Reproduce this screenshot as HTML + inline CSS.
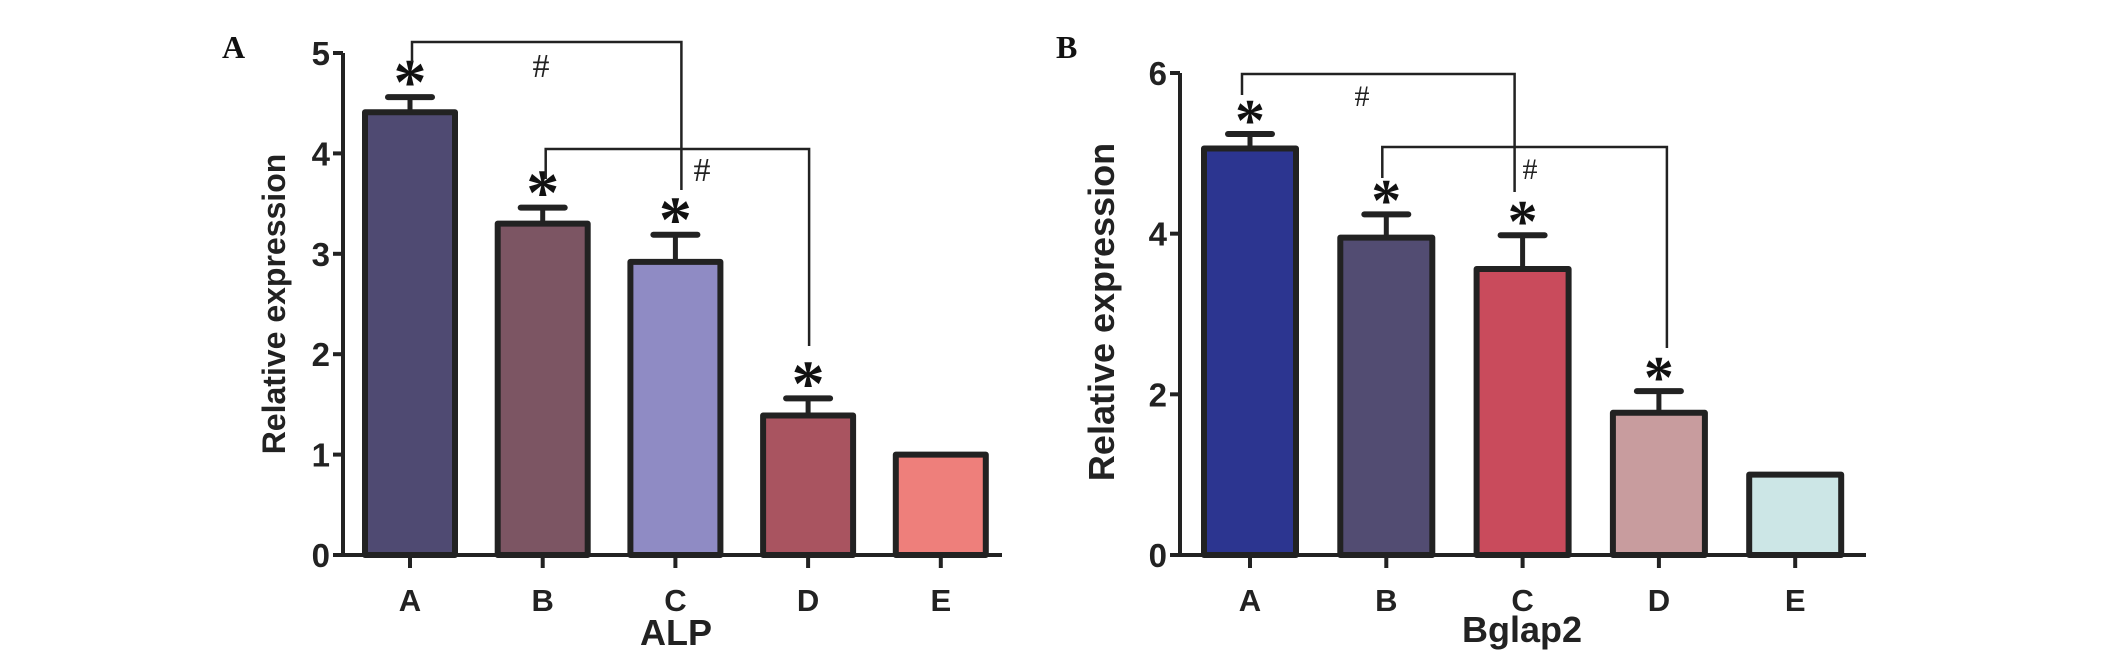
<!DOCTYPE html>
<html><head><meta charset="utf-8"><style>
html,body{margin:0;padding:0;background:#fff;}
svg{display:block;}
</style></head><body>
<svg id="chart" width="2126" height="652" viewBox="0 0 2126 652" xmlns="http://www.w3.org/2000/svg"></svg>
<script>
const categories = ["A","B","C","D","E"];
const alpValues = [4.41, 3.30, 2.92, 1.39, 1.00];
const alpErrors = [0.15, 0.16, 0.27, 0.17, 0];
const alpTicks = [0,1,2,3,4,5];
const bglapValues = [5.06, 3.95, 3.56, 1.77, 1.00];
const bglapErrors = [0.18, 0.29, 0.42, 0.27, 0];
const bglapTicks = [0,2,4,6];
const alpStars = [true,true,true,true,false];
const bglapStars = [true,true,true,true,false];

const NS="http://www.w3.org/2000/svg";
const svg=document.getElementById('chart');
function mk(tag,attrs,parent,text){const e=document.createElementNS(NS,tag);for(const k in attrs)e.setAttribute(k,attrs[k]);if(text!==undefined)e.textContent=text;(parent||svg).appendChild(e);return e;}

function panel(cfg){
  const g=mk('g',{});
  
  
  const y=v=>cfg.y0-(v-0)*(cfg.y0-cfg.yTop)/cfg.yMax;
  const x=i=>cfg.x0c+i*cfg.step;
  const pl=mk('text',{x:cfg.letterX,y:cfg.letterY,'font-family':'Liberation Serif, serif','font-weight':'bold','font-size':32,fill:'#111'},g,cfg.letter);
  
  
  cfg.values.forEach((v,i)=>{
    const cx=x(i),top=y(v);
    const eb=mk('line',{x1:cx,y1:top,x2:cx,y2:y(v+cfg.errors[i]),stroke:'#222','stroke-width':5},g);
    
    
    if(cfg.errors[i]>0){
      const cap=mk('line',{x1:cx-22,y1:y(v+cfg.errors[i]),x2:cx+22,y2:y(v+cfg.errors[i]),stroke:'#222','stroke-width':6,'stroke-linecap':'round'},g);
      
      
    }
    const r=mk('rect',{x:cx-cfg.bw/2,y:top,width:cfg.bw,height:cfg.y0-top,fill:cfg.colors[i],stroke:'#222','stroke-width':6,'stroke-linejoin':'round'},g);
    
    
    if(cfg.stars[i]){
      const sy=y(v+cfg.errors[i])-cfg.starGap;
      const s=mk('text',{x:cx,y:sy+cfg.starSize*0.47,'text-anchor':'middle','font-family':'Liberation Serif, serif','font-weight':'bold','font-size':cfg.starSize,fill:'#111'},g,'*');
      
      
    }
    const tk=mk('line',{x1:cx,y1:cfg.y0,x2:cx,y2:cfg.y0+13,stroke:'#222','stroke-width':4},g);
    
    
    const tl=mk('text',{x:cx,y:cfg.y0+56,'text-anchor':'middle','font-family':'Liberation Sans, sans-serif','font-weight':'bold','font-size':31,fill:'#222'},g,categories[i]);
    
    
  });
  const ya=mk('line',{x1:cfg.axX,y1:cfg.yTop,x2:cfg.axX,y2:cfg.y0+2,stroke:'#222','stroke-width':4},g);
  
  
  const xa=mk('line',{x1:cfg.axX,y1:cfg.y0,x2:cfg.axEnd,y2:cfg.y0,stroke:'#222','stroke-width':4},g);
  
  
  cfg.ticks.forEach(t=>{
    const l=mk('line',{x1:cfg.axX-10,y1:y(t),x2:cfg.axX,y2:y(t),stroke:'#222','stroke-width':4},g);
    
    
    const tt=mk('text',{x:cfg.axX-13,y:y(t)+12,'text-anchor':'end','font-family':'Liberation Sans, sans-serif','font-weight':'bold','font-size':33,fill:'#222'},g,String(t));
    
    
  });
  const yt=mk('text',{x:0,y:0,transform:`translate(${cfg.ytX},${cfg.ytY}) rotate(-90)`,'text-anchor':'middle','font-family':'Liberation Sans, sans-serif','font-weight':'bold','font-size':cfg.ytSize,fill:'#222'},g,'Relative expression');
  
  
  const xt=mk('text',{x:cfg.xtX,y:cfg.xtY,'text-anchor':'middle','font-family':'Liberation Sans, sans-serif','font-weight':'bold','font-size':36,fill:'#222'},g,cfg.xTitle);
  
  
  cfg.brackets.forEach(b=>{
    const p=mk('polyline',{points:`${x(b.from)+b.dx1},${b.yl} ${x(b.from)+b.dx1},${b.y} ${x(b.to)+b.dx2},${b.y} ${x(b.to)+b.dx2},${b.yr}`,fill:'none',stroke:'#222','stroke-width':2.5},g);
    
    
    const h=mk('text',{x:b.hx,y:b.hy+10,'text-anchor':'middle','font-family':'Liberation Serif, serif','font-size':cfg.hashSize,fill:'#222'},g,'#');
    
    
  });
}

panel({name:'alp-panel',letter:'A',letterX:222,letterY:58,values:alpValues,errors:alpErrors,ticks:alpTicks,stars:alpStars,
  yMax:5,y0:555,yTop:53,x0c:410,step:132.7,bw:90,axX:343,axEnd:1002,
  colors:['#4f4a72','#7c5563','#8f8bc4','#a95460','#ee7f7b'],
  starGap:24,starSize:66,ytX:285,ytY:304,ytSize:32,xtX:676,xtY:645,xTitle:'ALP',hashSize:34,
  brackets:[{from:0,to:2,dx1:2,dx2:6,y:42,yl:62,yr:190,hx:541,hy:67},
            {from:1,to:3,dx1:3,dx2:1,y:149,yl:179,yr:346,hx:702,hy:171}]});
panel({name:'bglap2-panel',letter:'B',letterX:1056,letterY:58,values:bglapValues,errors:bglapErrors,ticks:bglapTicks,stars:bglapStars,
  yMax:6,y0:555,yTop:73,x0c:1250,step:136.3,bw:92,axX:1180,axEnd:1866,
  colors:['#2c3590','#524c72','#c94b5c','#c89c9e','#cce6e6'],
  starGap:22,starSize:60,ytX:1114,ytY:312,ytSize:36,xtX:1522,xtY:642,xTitle:'Bglap2',hashSize:30,
  brackets:[{from:0,to:2,dx1:-8,dx2:-8,y:74,yl:95,yr:192,hx:1362,hy:96},
            {from:1,to:3,dx1:-4,dx2:8,y:147,yl:178,yr:348,hx:1530,hy:169}]});
</script>
</body></html>
